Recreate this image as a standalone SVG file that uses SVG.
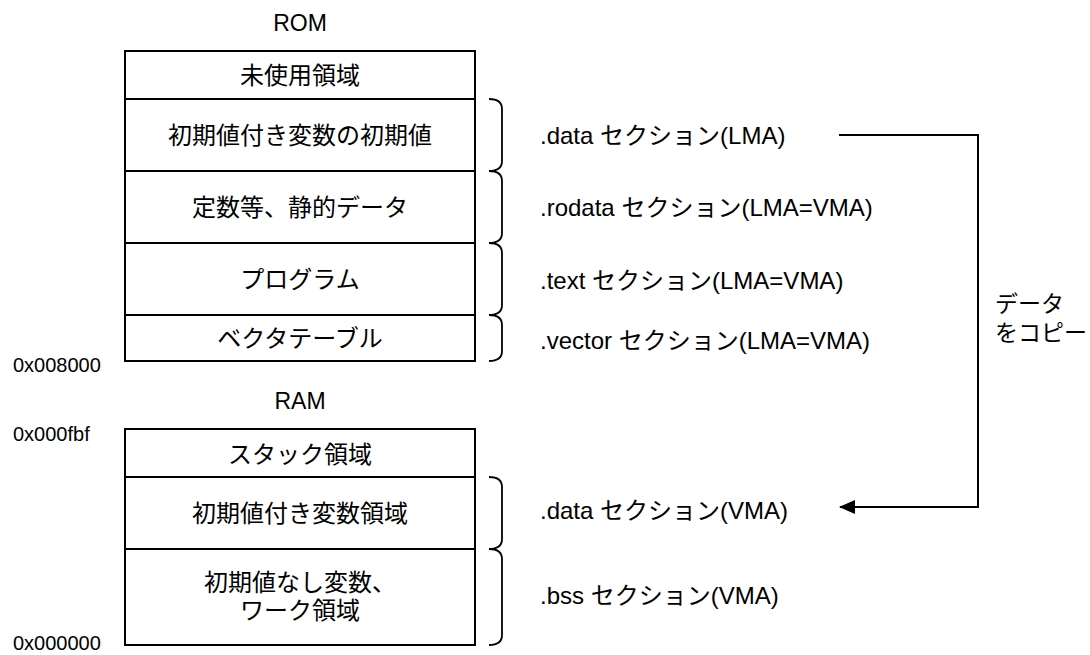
<svg xmlns="http://www.w3.org/2000/svg" width="1090" height="655" viewBox="0 0 1090 655">
  <style>
    text { font-family: "Liberation Sans", "Noto Sans CJK JP", sans-serif; fill: #000; }
    .title { font-size: 23px; text-anchor: middle; }
    .cell { font-size: 24px; text-anchor: middle; }
    .addr { font-size: 20px; }
    .sec { font-size: 24px; }
    .note { font-size: 23px; }
    .box { fill: #fff; stroke: #000; stroke-width: 2; }
    .div { stroke: #000; stroke-width: 2; }
    .brace { fill: none; stroke: #000; stroke-width: 1.8; }
    .wire { fill: none; stroke: #000; stroke-width: 2; }
  </style>
  <defs>
    <marker id="arrowhead" markerWidth="16" markerHeight="14" refX="15" refY="7" orient="auto" markerUnits="userSpaceOnUse">
      <path d="M0,0 L16,7 L0,14 Z" fill="#000"/>
    </marker>
  </defs>

  <rect width="1090" height="655" fill="#fff"/>

  <!-- ROM memory map -->
  <g id="rom">
    <text class="title" x="300" y="31">ROM</text>
    <rect class="box" x="125" y="51" width="350" height="310"/>
    <line class="div" x1="125" y1="99" x2="475" y2="99"/>
    <line class="div" x1="125" y1="171" x2="475" y2="171"/>
    <line class="div" x1="125" y1="243" x2="475" y2="243"/>
    <line class="div" x1="125" y1="315" x2="475" y2="315"/>
  </g>
  <g id="rom-unused"><text class="cell" x="300" y="84">未使用領域</text></g>
  <g id="rom-init"><text class="cell" x="300" y="144">初期値付き変数の初期値</text></g>
  <g id="rom-const"><text class="cell" x="300" y="216">定数等、静的データ</text></g>
  <g id="rom-program"><text class="cell" x="300" y="288">プログラム</text></g>
  <g id="rom-vector"><text class="cell" x="300" y="347">ベクタテーブル</text></g>
  <text class="addr" x="13" y="372">0x008000</text>

  <!-- RAM memory map -->
  <g id="ram">
    <text class="title" x="300" y="409">RAM</text>
    <rect class="box" x="125" y="429" width="350" height="216"/>
    <line class="div" x1="125" y1="477" x2="475" y2="477"/>
    <line class="div" x1="125" y1="549" x2="475" y2="549"/>
  </g>
  <g id="ram-stack"><text class="cell" x="300" y="463">スタック領域</text></g>
  <g id="ram-data"><text class="cell" x="300" y="522">初期値付き変数領域</text></g>
  <g id="ram-bss">
    <text class="cell" x="300" y="591">初期値なし変数、</text>
    <text class="cell" x="300" y="619">ワーク領域</text>
  </g>
  <text class="addr" x="13" y="441">0x000fbf</text>
  <text class="addr" x="13" y="650">0x000000</text>

  <!-- section braces -->
  <g id="braces">
    <path class="brace" d="M489,99 Q502,99 502,109 L502,161 Q502,171 489,171"/>
    <path class="brace" d="M489,171 Q502,171 502,181 L502,233 Q502,243 489,243"/>
    <path class="brace" d="M489,243 Q502,243 502,253 L502,305 Q502,315 489,315"/>
    <path class="brace" d="M489,315 Q502,315 502,325 L502,351 Q502,361 489,361"/>
    <path class="brace" d="M489,477 Q502,477 502,487 L502,539 Q502,549 489,549"/>
    <path class="brace" d="M489,549 Q502,549 502,559 L502,635 Q502,645 489,645"/>
  </g>

  <!-- section labels -->
  <g id="sec-data-lma"><text class="sec" x="540" y="144">.data セクション(LMA)</text></g>
  <g id="sec-rodata"><text class="sec" x="540" y="216">.rodata セクション(LMA=VMA)</text></g>
  <g id="sec-text"><text class="sec" x="540" y="289">.text セクション(LMA=VMA)</text></g>
  <g id="sec-vector"><text class="sec" x="540" y="349">.vector セクション(LMA=VMA)</text></g>
  <g id="sec-data-vma"><text class="sec" x="540" y="519">.data セクション(VMA)</text></g>
  <g id="sec-bss"><text class="sec" x="540" y="604">.bss セクション(VMA)</text></g>

  <!-- copy connector -->
  <g id="connectors">
    <polyline class="wire" points="839,135 978,135 978,507 840,507" marker-end="url(#arrowhead)"/>
  </g>
  <g id="copy-label">
    <text class="note" x="995" y="312">データ</text>
    <text class="note" x="995" y="341">をコピー</text>
  </g>
</svg>
